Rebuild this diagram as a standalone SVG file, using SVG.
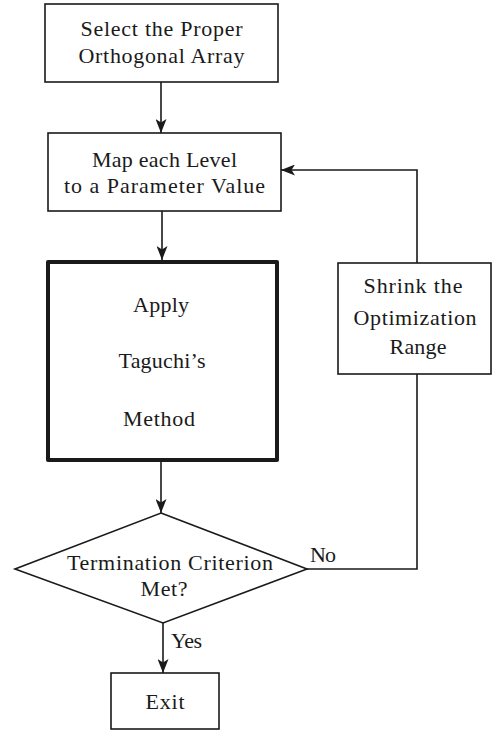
<svg xmlns="http://www.w3.org/2000/svg" width="492" height="730" viewBox="0 0 492 730">
<defs>
<marker id="ah" viewBox="0 0 14 11" refX="14" refY="5.5" markerWidth="14" markerHeight="11" markerUnits="userSpaceOnUse" orient="auto">
<path d="M0,0 L14,5.5 L0,11 L3.5,5.5 Z" fill="#1a1a1a"/>
</marker>
<style>
.box{fill:#fff;stroke:#1a1a1a;stroke-width:1.6}
.thick{fill:#fff;stroke:#1a1a1a;stroke-width:4;stroke-linejoin:round}
.t{font-family:"Liberation Serif","DejaVu Serif",serif;font-size:22px;fill:#1a1a1a;text-anchor:middle}
.l{font-family:"Liberation Serif","DejaVu Serif",serif;font-size:22px;fill:#1a1a1a}
.c{fill:none;stroke:#1a1a1a;stroke-width:1.6}
</style>
</defs>
<rect width="492" height="730" fill="#fff"/>
<g id="connectors">
<line class="c" x1="161" y1="82" x2="161" y2="133" marker-end="url(#ah)"/>
<line class="c" x1="162" y1="211" x2="162" y2="260" marker-end="url(#ah)"/>
<line class="c" x1="161" y1="461" x2="161" y2="513" marker-end="url(#ah)"/>
<line class="c" x1="163" y1="623" x2="163" y2="673" marker-end="url(#ah)"/>
<polyline class="c" points="307,569 417,569 417,374"/>
<polyline class="c" points="417,263 417,170 281,170" marker-end="url(#ah)"/>
<text class="l" x="310" y="562" textLength="26" lengthAdjust="spacing">No</text>
<text class="l" x="171" y="648" textLength="31" lengthAdjust="spacing">Yes</text>
</g>
<g id="select">
<rect class="box" x="45" y="4" width="233" height="78"/>
<text class="t" x="161.5" y="36" textLength="162" lengthAdjust="spacing">Select the Proper</text>
<text class="t" x="161.5" y="63" textLength="166" lengthAdjust="spacing">Orthogonal Array</text>
</g>
<g id="map">
<rect class="box" x="48" y="133" width="233" height="78"/>
<text class="t" x="164.5" y="167" textLength="145" lengthAdjust="spacing">Map each Level</text>
<text class="t" x="164.5" y="193" textLength="201" lengthAdjust="spacing">to a Parameter Value</text>
</g>
<g id="taguchi">
<rect class="thick" x="48" y="262" width="229" height="198"/>
<text class="t" x="161" y="312" textLength="56" lengthAdjust="spacing">Apply</text>
<text class="t" x="162" y="368" textLength="87" lengthAdjust="spacing">Taguchi’s</text>
<text class="t" x="159" y="426" textLength="72" lengthAdjust="spacing">Method</text>
</g>
<g id="shrink">
<rect class="box" x="338" y="263" width="153" height="111"/>
<text class="t" x="413" y="293" textLength="99" lengthAdjust="spacing">Shrink the</text>
<text class="t" x="415" y="325" textLength="123" lengthAdjust="spacing">Optimization</text>
<text class="t" x="418" y="354" textLength="57" lengthAdjust="spacing">Range</text>
</g>
<g id="termination">
<polygon class="box" points="161,513 307,569 163,623 15,569"/>
<text class="t" x="170" y="570" textLength="206" lengthAdjust="spacing">Termination Criterion</text>
<text class="t" x="164" y="596" textLength="47" lengthAdjust="spacing">Met?</text>
</g>
<g id="exit">
<rect class="box" x="111" y="673" width="108" height="56"/>
<text class="t" x="165" y="709" textLength="39" lengthAdjust="spacing">Exit</text>
</g>
</svg>
